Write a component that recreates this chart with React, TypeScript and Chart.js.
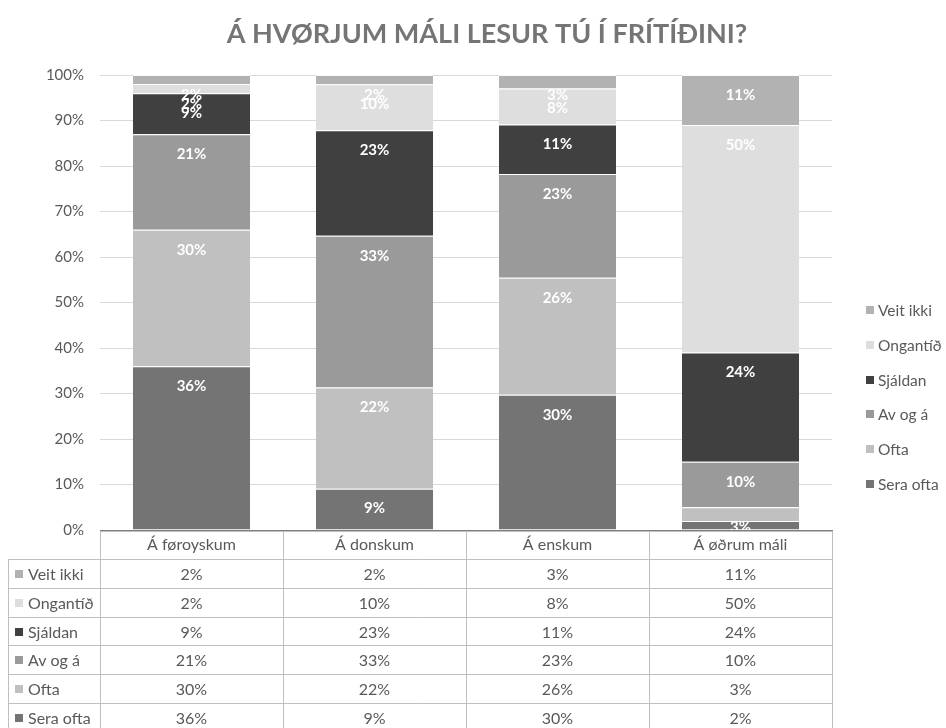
import React, { useEffect, useRef } from "react";
import { Chart, registerables } from "chart.js";

Chart.register(...registerables);

const categories = ["Á føroyskum", "Á donskum", "Á enskum", "Á øðrum máli"];
const seraOfta = [36, 9, 30, 2];
const ofta = [30, 22, 26, 3];
const avOgA = [21, 33, 23, 10];
const sjaldan = [9, 23, 11, 24];
const ongantid = [2, 10, 8, 50];
const veitIkki = [2, 2, 3, 11];
const seriesNames = ["Sera ofta", "Ofta", "Av og á", "Sjáldan", "Ongantíð", "Veit ikki"];
const seriesValues = [seraOfta, ofta, avOgA, sjaldan, ongantid, veitIkki];
const seriesColors = ["#747474", "#c0c0c0", "#9a9a9a", "#404040", "#dedede", "#b2b2b2"];
const yTickValues = [0, 10, 20, 30, 40, 50, 60, 70, 80, 90, 100];
const title = "Á HVØRJUM MÁLI LESUR TÚ Í FRÍTÍÐINI?";

const FONT = "Lato, Carlito, Calibri, 'Open Sans', sans-serif";
const TEXT = "#595959";

const totals = categories.map((_, i) => seriesValues.reduce((s, arr) => s + arr[i], 0));

const overlayPlugin = {
  id: "overlay",
  afterDatasetsDraw(chart: any) {
    const ctx = chart.ctx;
    const area = chart.chartArea;
    ctx.save();
    ctx.beginPath();
    ctx.rect(area.left, area.top, area.right - area.left, area.bottom - area.top);
    ctx.clip();
    ctx.fillStyle = "#ffffff";
    ctx.font = `bold 15px ${FONT}`;
    ctx.textAlign = "center";
    ctx.textBaseline = "middle";
    chart.data.datasets.forEach((ds: any, di: number) => {
      const meta = chart.getDatasetMeta(di);
      meta.data.forEach((el: any, i: number) => {
        const v = seriesValues[di][i];
        ctx.fillText(`${v}%`, el.x, el.y + 20);
      });
    });
    ctx.restore();
  },
  afterDraw(chart: any) {
    const ctx = chart.ctx;
    const area = chart.chartArea;
    const xs = chart.scales.x;
    ctx.save();
    // title
    ctx.fillStyle = "#757575";
    ctx.font = `bold 27px ${FONT}`;
    ctx.textAlign = "center";
    ctx.textBaseline = "middle";
    ctx.fillText(title, 487, 34);

    // legend
    ctx.font = `15.5px ${FONT}`;
    ctx.textAlign = "left";
    const legendOrder = [5, 4, 3, 2, 1, 0];
    legendOrder.forEach((si, k) => {
      const y = 310 + k * 34.8;
      ctx.fillStyle = seriesColors[si];
      ctx.fillRect(866, Math.round(y - 4), 8, 8);
      ctx.fillStyle = TEXT;
      ctx.fillText(seriesNames[si], 878, y + 1);
    });

    // data table
    const top = area.bottom;
    const headerBottom = top + 29;
    const rowH = 28.8;
    const left = 8;
    const colEdges = [area.left];
    categories.forEach((_, i) => {
      colEdges.push(area.left + ((area.right - area.left) * (i + 1)) / categories.length);
    });
    ctx.strokeStyle = "#bfbfbf";
    ctx.lineWidth = 1;
    ctx.beginPath();
    colEdges.forEach((x) => {
      const xx = Math.round(x) + 0.5;
      ctx.moveTo(xx, top);
      ctx.lineTo(xx, 740);
    });
    ctx.moveTo(left + 0.5, headerBottom);
    ctx.lineTo(left + 0.5, 740);
    for (let r = 0; r <= 6; r++) {
      const y = Math.round(headerBottom + r * rowH) + 0.5;
      ctx.moveTo(left, y);
      ctx.lineTo(area.right + 1, y);
    }
    ctx.moveTo(area.left, top + 1.5);
    ctx.lineTo(area.right + 1, top + 1.5);
    ctx.stroke();
    // axis line
    ctx.strokeStyle = "#7f7f7f";
    ctx.beginPath();
    ctx.moveTo(area.left, top + 0.5);
    ctx.lineTo(area.right + 1, top + 0.5);
    ctx.stroke();

    ctx.font = `16px ${FONT}`;
    ctx.fillStyle = TEXT;
    ctx.textAlign = "center";
    categories.forEach((c, i) => {
      const cx = xs.getPixelForValue(i);
      ctx.fillText(c, cx, top + 15);
    });
    legendOrder.forEach((si, r) => {
      const y = headerBottom + r * rowH + rowH / 2 + 0.5;
      ctx.fillStyle = seriesColors[si];
      ctx.fillRect(15, Math.round(y - 4), 8, 8);
      ctx.fillStyle = TEXT;
      ctx.textAlign = "left";
      ctx.fillText(seriesNames[si], 28, y + 1);
      ctx.textAlign = "center";
      categories.forEach((_, i) => {
        const cx = xs.getPixelForValue(i);
        ctx.fillText(`${seriesValues[si][i]}%`, cx, y + 1);
      });
    });
    ctx.restore();
  },
};

export default function App() {
  const ref = useRef<HTMLCanvasElement | null>(null);
  useEffect(() => {
    document.body.style.margin = "0";
    const canvas = ref.current;
    if (!canvas) return;
    const chart = new Chart(canvas, {
      type: "bar",
      data: {
        labels: categories,
        datasets: seriesNames.map((name, si) => ({
          label: name,
          data: seriesValues[si].map((v, i) => (v / totals[i]) * 100),
          backgroundColor: seriesColors[si],
          borderColor: "rgba(255,255,255,0.85)",
          borderWidth: { top: 1, left: 0, right: 0, bottom: 0 },
          borderSkipped: false,
          barPercentage: 0.64,
          categoryPercentage: 1,
        })),
      },
      options: {
        responsive: false,
        animation: false,
        devicePixelRatio: 1,
        layout: { padding: { top: 75, bottom: 198, left: 0, right: 114 } },
        plugins: {
          legend: { display: false },
          title: { display: false },
          tooltip: { enabled: false },
        },
        scales: {
          x: { stacked: true, display: false },
          y: {
            stacked: true,
            min: 0,
            max: 100,
            afterFit: (s: any) => {
              s.width = 100;
            },
            afterBuildTicks: (s: any) => {
              s.ticks = yTickValues.map((v) => ({ value: v }));
            },
            ticks: {
              callback: (v: any) => `${v}%`,
              color: TEXT,
              font: { family: FONT, size: 15 },
              padding: 16,
            },
            grid: { color: "#d9d9d9", drawTicks: false },
            border: { display: false },
          },
        },
      },
      plugins: [overlayPlugin],
    });
    return () => chart.destroy();
  }, []);
  return <canvas ref={ref} width={946} height={728} style={{ display: "block" }} />;
}
